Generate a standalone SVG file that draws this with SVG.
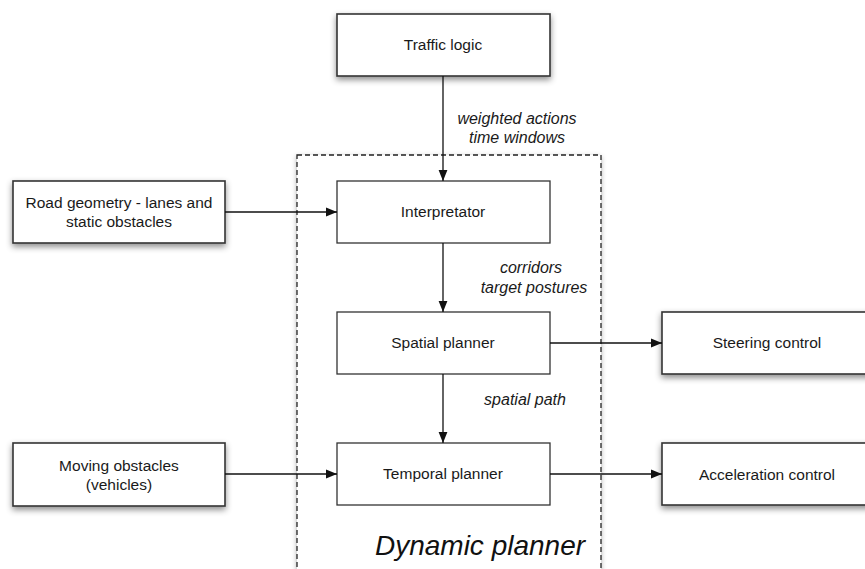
<svg xmlns="http://www.w3.org/2000/svg" width="865" height="569" viewBox="0 0 865 569">
<style>
.box{fill:#fff;stroke:#333;stroke-width:1.6}
.inner{fill:#fff;stroke:#333;stroke-width:1.3}
.t{font-family:"Liberation Sans",Arial,sans-serif;font-size:15.5px;fill:#1a1a1a;text-anchor:middle}
.lbl{font-family:"Liberation Sans",Arial,sans-serif;font-size:16px;font-style:italic;fill:#1a1a1a;text-anchor:middle}
.conn{stroke:#111;stroke-width:1.3;fill:none;marker-end:url(#ah)}
</style>
<defs>
<marker id="ah" viewBox="0 0 10 10" refX="10" refY="5" markerWidth="11" markerHeight="11" markerUnits="userSpaceOnUse" orient="auto">
<path d="M0,1 L10,5 L0,9 Z" fill="#111"/>
</marker>
<filter id="sh" x="-10%" y="-20%" width="120%" height="150%">
<feDropShadow dx="0" dy="3" stdDeviation="3" flood-color="#000" flood-opacity="0.45"/>
</filter>
<filter id="sh2" x="-5%" y="-5%" width="110%" height="110%">
<feDropShadow dx="0" dy="2" stdDeviation="2.5" flood-color="#000" flood-opacity="0.3"/>
</filter>
</defs>
<g id="dynamic-planner">
<rect x="297" y="155" width="304" height="430" fill="#fff" stroke="#222" stroke-width="1.3" stroke-dasharray="5,3" filter="url(#sh2)"/>
<text x="480" y="555" font-family="Liberation Sans,Arial,sans-serif" font-size="28" font-style="italic" fill="#111" text-anchor="middle">Dynamic planner</text>
</g>
<g id="traffic-logic">
<rect class="box" x="337" y="14" width="213" height="62" filter="url(#sh)"/>
<text class="t" x="443" y="50">Traffic logic</text>
</g>
<g id="road-geometry">
<rect class="box" x="13" y="181" width="212" height="62" filter="url(#sh)"/>
<text class="t" x="119" y="208">Road geometry - lanes and</text>
<text class="t" x="119" y="227">static obstacles</text>
</g>
<g id="moving-obstacles">
<rect class="box" x="13" y="443" width="212" height="63" filter="url(#sh)"/>
<text class="t" x="119" y="471">Moving obstacles</text>
<text class="t" x="119" y="490">(vehicles)</text>
</g>
<g id="interpretator">
<rect class="inner" x="337" y="181" width="213" height="62"/>
<text class="t" x="443" y="217">Interpretator</text>
</g>
<g id="spatial-planner">
<rect class="inner" x="337" y="312" width="213" height="62"/>
<text class="t" x="443" y="348">Spatial planner</text>
</g>
<g id="temporal-planner">
<rect class="inner" x="337" y="443" width="213" height="62"/>
<text class="t" x="443" y="479">Temporal planner</text>
</g>
<g id="steering-control">
<rect class="box" x="662" y="312" width="213" height="62" filter="url(#sh)"/>
<text class="t" x="767" y="348">Steering control</text>
</g>
<g id="acceleration-control">
<rect class="box" x="662" y="443" width="213" height="62" filter="url(#sh)"/>
<text class="t" x="767" y="480">Acceleration control</text>
</g>
<g id="connectors">
<line class="conn" x1="443" y1="76" x2="443" y2="181"/>
<line class="conn" x1="225" y1="212" x2="337" y2="212"/>
<line class="conn" x1="443" y1="243" x2="443" y2="312"/>
<line class="conn" x1="550" y1="343" x2="662" y2="343"/>
<line class="conn" x1="443" y1="374" x2="443" y2="443"/>
<line class="conn" x1="225" y1="474" x2="337" y2="474"/>
<line class="conn" x1="550" y1="474" x2="662" y2="474"/>
<text class="lbl" x="517" y="124">weighted actions</text>
<text class="lbl" x="517" y="143">time windows</text>
<text class="lbl" x="531" y="273">corridors</text>
<text class="lbl" x="534" y="293">target postures</text>
<text class="lbl" x="525" y="405">spatial path</text>
</g>
</svg>
